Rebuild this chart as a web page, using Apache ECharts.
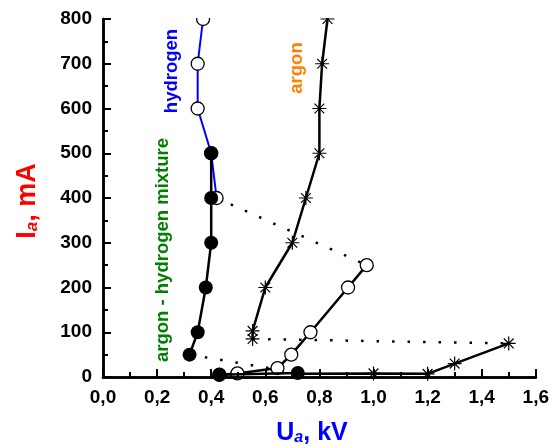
<!DOCTYPE html>
<html>
<head>
<meta charset="utf-8">
<script src="https://cdn.jsdelivr.net/npm/echarts@6/dist/echarts.min.js"></script>
<style>
  html, body { margin: 0; padding: 0; background: #fff; }
  #main { width: 552px; height: 448px; }
</style>
</head>
<body>
<div id="main"></div>
<script>
// 数据：U_a (kV) 和 I_a (mA)，按分支拆开
var hydrogenUpperU = [0.37, 0.35, 0.35, 0.40, 0.42];
var hydrogenUpperI = [800, 700, 600, 500, 400];
var hydrogenLowerU = [0.975, 0.906, 0.767, 0.696, 0.645, 0.497, 0.43];
var hydrogenLowerI = [250, 200, 100, 50, 20, 8, 5];

var argonUpperU = [0.83, 0.81, 0.80, 0.80, 0.75, 0.70, 0.60, 0.553, 0.553];
var argonUpperI = [800, 700, 600, 500, 400, 300, 200, 103, 85];
var argonLowerU = [1.50, 1.30, 1.20, 1.00, 0.72];
var argonLowerI = [75, 30, 7, 8, 7];

var mixUpperU = [0.40, 0.40, 0.40, 0.38, 0.35, 0.32];
var mixUpperI = [500, 400, 300, 200, 100, 50];
var mixLowerU = [0.72, 0.43];
var mixLowerI = [9, 5];

function pairs(u, i) {
  return u.map(function(v, k) { return [v, i[k]]; });
}
function jump(u1, i1, u2, i2) {
  return [[u1[u1.length - 1], i1[i1.length - 1]], [u2[0], i2[0]]];
}

var star = 'path://M5,0 L5,10 M0,5 L10,5 M1.5,1.5 L8.5,8.5 M1.5,8.5 L8.5,1.5';
var starStyle = { color: 'none', borderColor: '#000', borderWidth: 1.2 };
var openCircle = { color: '#fff', borderColor: '#000', borderWidth: 1.3 };
var solidLine = { color: '#000', width: 2.5 };
var dottedLine = { color: '#000', width: 2.5, type: [2.5, 13] };
var labelFont = 'Liberation Sans';

var chart = echarts.init(document.getElementById('main'));

var option = {
  backgroundColor: '#fff',
  animation: false,
  grid: { left: 103, right: 14, top: 19, bottom: 71, show: false },
  xAxis: [{
    type: 'value',
    min: 0, max: 1.6, interval: 0.2,
    axisLine: { show: true, onZero: false, lineStyle: { color: '#000', width: 2.5 } },
    axisTick: { show: true, inside: true, length: 8, lineStyle: { color: '#000', width: 2 } },
    minorTick: { show: true, splitNumber: 2, length: 5, lineStyle: { color: '#000', width: 2 } },
    splitLine: { show: false },
    axisLabel: {
      margin: 11, color: '#000', fontSize: 19, fontWeight: 'bold', fontFamily: labelFont,
      formatter: function(v) { return v.toFixed(1).replace('.', ','); }
    },
    z: 10
  }, {
    type: 'value', position: 'top',
    min: 0, max: 1.6, interval: 0.2,
    axisLine: { show: true, lineStyle: { color: '#000', width: 2.5 } },
    axisTick: { show: false }, axisLabel: { show: false }, splitLine: { show: false },
    z: 10
  }],
  yAxis: [{
    type: 'value',
    min: 0, max: 800, interval: 100,
    axisLine: { show: true, onZero: false, lineStyle: { color: '#000', width: 2.5 } },
    axisTick: { show: true, inside: true, length: 8, lineStyle: { color: '#000', width: 2 } },
    minorTick: { show: true, splitNumber: 2, length: 5, lineStyle: { color: '#000', width: 2 } },
    splitLine: { show: false },
    axisLabel: { margin: 11, color: '#000', fontSize: 19, fontWeight: 'bold', fontFamily: labelFont },
    z: 10
  }, {
    type: 'value', position: 'right',
    min: 0, max: 800, interval: 100,
    axisLine: { show: true, lineStyle: { color: '#000', width: 2.5 } },
    axisTick: { show: false }, axisLabel: { show: false }, splitLine: { show: false },
    z: 10
  }],
  series: [
    {
      name: 'hydrogen', type: 'line', data: pairs(hydrogenUpperU, hydrogenUpperI),
      symbol: 'circle', symbolSize: 13, itemStyle: openCircle,
      lineStyle: { color: '#0000ff', width: 2 }, z: 2
    },
    {
      name: 'hydrogen jump', type: 'line', data: jump(hydrogenUpperU, hydrogenUpperI, hydrogenLowerU, hydrogenLowerI),
      symbol: 'none', lineStyle: dottedLine, z: 1
    },
    {
      name: 'hydrogen low', type: 'line', data: pairs(hydrogenLowerU, hydrogenLowerI),
      symbol: 'circle', symbolSize: 13, itemStyle: openCircle, lineStyle: solidLine, z: 2
    },
    {
      name: 'argon', type: 'line', data: pairs(argonUpperU, argonUpperI),
      symbol: star, symbolSize: 14, itemStyle: starStyle, lineStyle: solidLine, z: 3
    },
    {
      name: 'argon jump', type: 'line', data: jump(argonUpperU, argonUpperI, argonLowerU, argonLowerI),
      symbol: 'none', lineStyle: dottedLine, z: 1
    },
    {
      name: 'argon low', type: 'line', data: pairs(argonLowerU, argonLowerI),
      symbol: star,
      symbolSize: function(v, p) { return p.dataIndex === argonLowerU.length - 1 ? 0 : 14; },
      itemStyle: starStyle, lineStyle: solidLine, z: 3
    },
    {
      name: 'mixture', type: 'line', data: pairs(mixUpperU, mixUpperI),
      symbol: 'circle', symbolSize: 14, itemStyle: { color: '#000' }, lineStyle: solidLine, z: 4
    },
    {
      name: 'mixture jump', type: 'line', data: jump(mixUpperU, mixUpperI, mixLowerU, mixLowerI),
      symbol: 'none', lineStyle: dottedLine, z: 1
    },
    {
      name: 'mixture low', type: 'line', data: pairs(mixLowerU, mixLowerI),
      symbol: 'circle', symbolSize: 14, itemStyle: { color: '#000' }, lineStyle: solidLine, z: 4
    }
  ],
  graphic: [
    {
      // 上边框外的部分遮住（原图符号被裁切）
      type: 'rect', z: 5, silent: true,
      shape: { x: 103, y: 0, width: 436, height: 18 },
      style: { fill: '#fff' }
    },
    {
      type: 'text', x: 172, y: 71, rotation: Math.PI / 2,
      style: { text: 'hydrogen', fill: '#0000ff', font: 'bold 18.5px "Liberation Sans"', align: 'center', verticalAlign: 'middle' }
    },
    {
      type: 'text', x: 297, y: 68, rotation: Math.PI / 2,
      style: { text: 'argon', fill: '#ff8000', font: 'bold 18.5px "Liberation Sans"', align: 'center', verticalAlign: 'middle' }
    },
    {
      type: 'text', x: 163, y: 250, rotation: Math.PI / 2,
      style: { text: 'argon - hydrogen mixture', fill: '#008000', font: 'bold 18.5px "Liberation Sans"', align: 'center', verticalAlign: 'middle' }
    },
    {
      type: 'text', x: 25, y: 201, rotation: Math.PI / 2,
      style: {
        text: '{m|I}{s|a}{m|, mA}', align: 'center', verticalAlign: 'middle',
        rich: {
          m: { fill: '#ff0000', fontSize: 27, fontWeight: 'bold', fontFamily: labelFont, lineHeight: 32, verticalAlign: 'bottom' },
          s: { fill: '#ff0000', fontSize: 17, fontWeight: 'bold', fontStyle: 'italic', fontFamily: labelFont, lineHeight: 24, verticalAlign: 'bottom', padding: [12, 0, 0, 0] }
        }
      }
    },
    {
      type: 'text', x: 312, y: 431,
      style: {
        text: '{m|U}{s|a}{m|, kV}', align: 'center', verticalAlign: 'middle',
        rich: {
          m: { fill: '#0000ff', fontSize: 25, fontWeight: 'bold', fontFamily: labelFont, lineHeight: 30, verticalAlign: 'bottom' },
          s: { fill: '#0000ff', fontSize: 16, fontWeight: 'bold', fontStyle: 'italic', fontFamily: labelFont, lineHeight: 22, verticalAlign: 'bottom', padding: [12, 0, 0, 0] }
        }
      }
    }
  ]
};

chart.setOption(option);
</script>
</body>
</html>
